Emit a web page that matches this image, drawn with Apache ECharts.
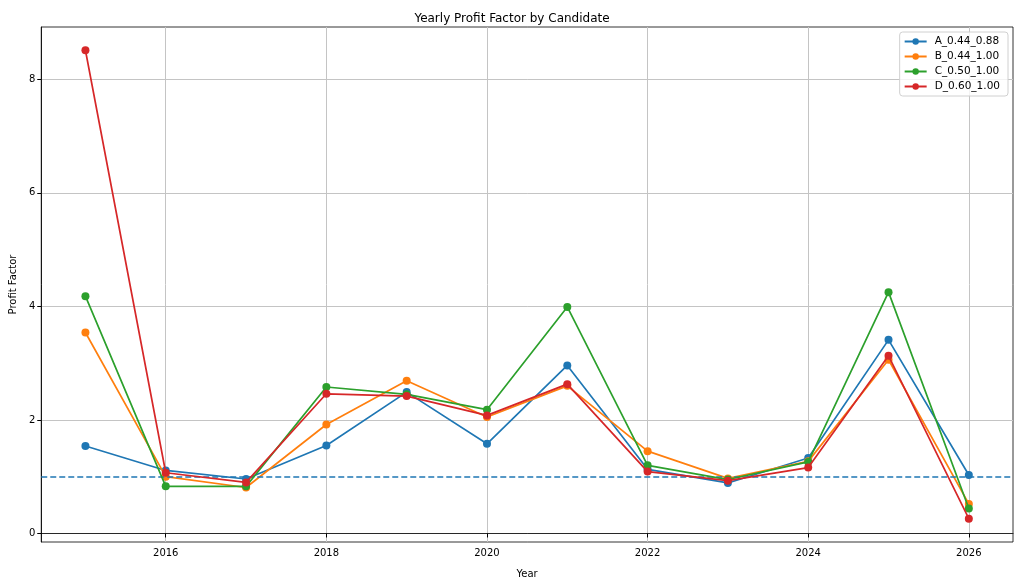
<!DOCTYPE html>
<html>
<meta charset="utf-8">
<head>
	<title>Yearly Profit Factor by Candidate</title>
	<script src="https://cdn.jsdelivr.net/npm/echarts@6/dist/echarts.min.js"></script>
	<style type="text/css">
		html,body{margin:0;padding:0;background:#fff;}
		#main{width:1024px;height:585px;}
	</style>
</head>
<body>
<div id="main"></div>
<script type="text/javascript">
// data
var years = [2015, 2016, 2017, 2018, 2019, 2020, 2021, 2022, 2023, 2024, 2025, 2026];
var names = ['A_0.44_0.88', 'B_0.44_1.00', 'C_0.50_1.00', 'D_0.60_1.00'];
var seriesA = [1.54, 1.11, 0.96, 1.55, 2.49, 1.58, 2.96, 1.13, 0.89, 1.33, 3.41, 1.03];
var seriesB = [3.54, 1.00, 0.81, 1.92, 2.69, 2.05, 2.60, 1.45, 0.97, 1.27, 3.06, 0.52];
var seriesC = [4.18, 0.83, 0.83, 2.58, 2.45, 2.18, 3.99, 1.20, 0.95, 1.26, 4.25, 0.44];
var seriesD = [8.51, 1.07, 0.90, 2.46, 2.42, 2.08, 2.63, 1.09, 0.93, 1.16, 3.13, 0.26];
var xTicks = [2016, 2018, 2020, 2022, 2024, 2026];
var yTicks = [0, 2, 4, 6, 8];
var refLevel = 1;

var colors = ['#1f77b4', '#ff7f0e', '#2ca02c', '#d62728'];
var font = 'DejaVu Sans';

function pairs(vals) {
	return years.map(function (y, i) { return [y, vals[i]]; });
}

var allVals = [seriesA, seriesB, seriesC, seriesD];
var series = allVals.map(function (vals, i) {
	var s = {
		name: names[i],
		type: 'line',
		data: pairs(vals),
		symbol: 'circle',
		symbolSize: 8,
		lineStyle: {width: 1.7, color: colors[i]},
		itemStyle: {color: colors[i]},
		emphasis: {disabled: true},
		z: 3 + i
	};
	if (i === 0) {
		// 参考线 y=1
		s.markLine = {
			silent: true,
			symbol: 'none',
			label: {show: false},
			lineStyle: {color: colors[0], type: [6, 3], width: 1.6},
			data: [{yAxis: refLevel}]
		};
	}
	return s;
});

var chart = echarts.init(document.getElementById('main'));
var option = {
	animation: false,
	color: colors,
	textStyle: {fontFamily: font},
	title: {
		text: 'Yearly Profit Factor by Candidate',
		left: 'center',
		top: 8,
		textStyle: {fontFamily: font, fontSize: 12, fontWeight: 'normal', color: '#000'}
	},
	legend: {
		orient: 'vertical',
		right: 16,
		top: 32,
		itemWidth: 22,
		itemHeight: 8,
		itemGap: 4,
		padding: [4, 8, 4, 4],
		borderColor: '#d0d0d0',
		borderWidth: 1,
		borderRadius: 3,
		backgroundColor: 'rgba(255,255,255,0.8)',
		textStyle: {fontFamily: font, fontSize: 10.5, color: '#000', padding: [0, 0, 0, 3]},
		data: names
	},
	grid: {
		left: 38, right: 11, top: 27, bottom: 43,
		show: true, borderColor: '#000', borderWidth: 0.8,
		containLabel: false
	},
	xAxis: {
		type: 'value',
		min: 2014.45,
		max: 2026.55,
		name: 'Year',
		nameLocation: 'middle',
		nameGap: 27,
		nameTextStyle: {fontFamily: font, fontSize: 10, color: '#000'},
		axisLine: {show: true, lineStyle: {color: '#000', width: 0.8}},
		axisTick: {show: true, inside: false, length: 4, lineStyle: {color: '#000'}, customValues: xTicks},
		axisLabel: {fontFamily: font, fontSize: 10, color: '#000', margin: 6, customValues: xTicks,
			formatter: function (v) { return String(v); }},
		splitLine: {show: true, lineStyle: {color: '#c4c4c4', width: 1}, customValues: xTicks}
	},
	yAxis: {
		type: 'value',
		min: -0.15,
		max: 8.92,
		name: 'Profit Factor',
		nameLocation: 'middle',
		nameGap: 20,
		nameRotate: 90,
		nameTextStyle: {fontFamily: font, fontSize: 10, color: '#000'},
		axisLine: {show: true, lineStyle: {color: '#000', width: 0.8}},
		axisTick: {show: true, inside: false, length: 4, lineStyle: {color: '#000'}, customValues: yTicks},
		axisLabel: {fontFamily: font, fontSize: 10, color: '#000', margin: 6, customValues: yTicks},
		splitLine: {show: true, lineStyle: {color: '#c4c4c4', width: 1}, customValues: yTicks}
	},
	series: series
};
chart.setOption(option);
</script>
</body>
</html>
